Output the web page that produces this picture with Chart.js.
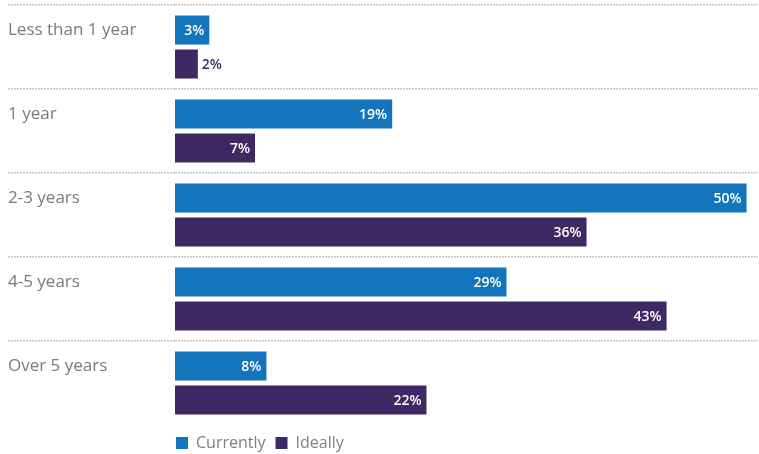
<!DOCTYPE html>
<html lang="en">
<head>
  <meta charset="UTF-8">
  <title>Tenure: currently vs ideally</title>
  <script src="https://cdn.jsdelivr.net/npm/chart.js"></script>
  <style>
    body {
      margin: 0;
      background: #fff;
    }
    canvas {
      display: block;
    }
  </style>
</head>
<body>
  <canvas id="tenureChart" width="759" height="454"></canvas>

  <script>
    const categories = ["Less than 1 year", "1 year", "2-3 years", "4-5 years", "Over 5 years"];
    const currently = [3, 19, 50, 29, 8];
    const ideally = [2, 7, 36, 43, 22];

    const BLUE = '#1274bb';
    const PURPLE = '#3e2964';
    const DOTS = '#c6c6c6';
    const FONT = "'Open Sans', Arial, sans-serif";

    // dotted separators: hide the one under the last category
    const lineColor = (ctx) => ctx.type === 'tick' ? DOTS : 'transparent';

    // percentage labels at the end of each bar, inside when they fit
    const valueLabels = {
      id: 'valueLabels',
      afterDatasetsDraw(chart) {
        const c = chart.ctx;
        c.save();
        c.font = `600 14px ${FONT}`;
        c.textBaseline = 'middle';
        chart.data.datasets.forEach((ds, di) => {
          chart.getDatasetMeta(di).data.forEach((bar, i) => {
            const text = ds.data[i] + '%';
            const w = c.measureText(text).width;
            if (bar.x - bar.base > w + 10) {
              c.fillStyle = '#fff';
              c.textAlign = 'right';
              c.fillText(text, bar.x - 5, bar.y + 1);
            } else {
              c.fillStyle = ds.backgroundColor;
              c.textAlign = 'left';
              c.fillText(text, bar.x + 4, bar.y + 1);
            }
          });
        });
        c.restore();
      }
    };

    // line the legend up with the left edge of the bars
    const legendShift = {
      id: 'legendShift',
      afterLayout(chart) {
        chart.legend.left -= 9;
        chart.legend.right -= 9;
      }
    };

    new Chart(document.getElementById('tenureChart'), {
      type: 'bar',
      data: {
        labels: categories,
        datasets: [
          { label: 'Currently', data: currently, backgroundColor: BLUE },
          { label: 'Ideally', data: ideally, backgroundColor: PURPLE }
        ]
      },
      options: {
        indexAxis: 'y',
        responsive: false,
        animation: false,
        categoryPercentage: 0.81,
        barPercentage: 0.853,
        layout: { padding: { left: 8, right: 1, top: 5, bottom: -7 } },
        scales: {
          x: { display: false, min: 0, max: 51 },
          y: {
            afterFit(scale) {
              scale.width = 167;
              scale.paddingTop = 0;
              scale.paddingBottom = 0;
            },
            border: { display: false, dash: [2, 1] },
            grid: {
              offset: true,
              color: lineColor,
              tickColor: lineColor,
              lineWidth: 1.5,
              tickWidth: 1.5,
              tickLength: 167,
              tickBorderDash: [2, 1]
            },
            ticks: {
              crossAlign: 'far',
              labelOffset: -17,
              color: '#7a7a7a',
              font: { family: FONT, size: 17 }
            }
          }
        },
        plugins: {
          tooltip: { enabled: false },
          legend: {
            position: 'bottom',
            align: 'start',
            fullSize: false,
            labels: {
              boxWidth: 12,
              boxHeight: 12,
              padding: 10,
              color: '#7f7f7f',
              font: { family: FONT, size: 16 }
            }
          }
        }
      },
      plugins: [valueLabels, legendShift]
    });
  </script>
</body>
</html>
